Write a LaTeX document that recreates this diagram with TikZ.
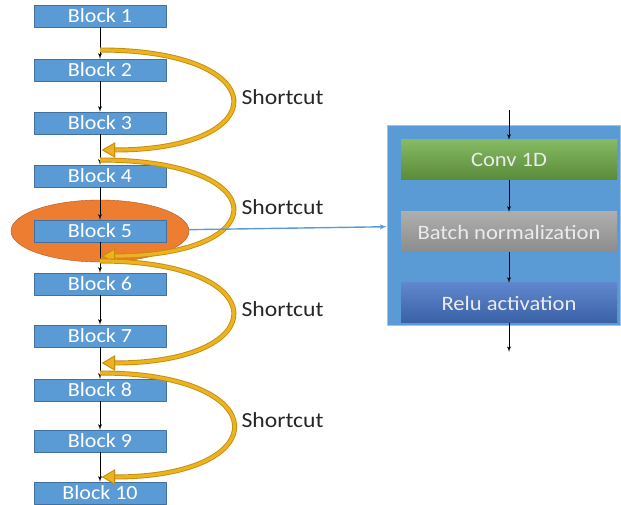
\documentclass[tikz,border=0pt]{standalone}
\usepackage{fontspec}
\setmainfont[FakeStretch=1.1]{Carlito}
\usepackage{tikz}
\usetikzlibrary{arrows,arrows.meta,shapes.geometric}
\definecolor{blockblue}{HTML}{5B9BD5}
\definecolor{blockedge}{HTML}{41719C}
\definecolor{selorange}{HTML}{ED7D31}
\definecolor{seledge}{HTML}{AE5A21}
\definecolor{scgold}{HTML}{EDB21F}
\definecolor{scdark}{HTML}{C48E0C}
\definecolor{convgreen}{HTML}{70AD47}
\definecolor{bngray}{HTML}{A5A5A5}
\definecolor{relublue}{HTML}{4472C4}
\definecolor{labelgray}{HTML}{262626}

\begin{document}
\begin{tikzpicture}[>=latex',line join=bevel,
  block/.style={draw=blockedge,fill=blockblue,text=white,minimum width=132bp,minimum height=22bp,inner sep=0pt,font=\fontsize{20bp}{22bp}\selectfont},
  layer/.style={minimum width=216bp,minimum height=40bp,inner sep=0pt,text=white!92!black,font=\fontsize{20.5bp}{24bp}\selectfont},
  flow/.style={->,black,line width=0.9bp},
  shortcut/.style={preaction={draw=scdark,line width=5bp},draw=scgold,line width=3.2bp,-{Triangle[length=13bp,width=15bp,fill=scgold,color=scdark,line width=0.8bp]}},
  sclabel/.style={anchor=west,text=labelgray,font=\fontsize{21.5bp}{24bp}\selectfont}]
\useasboundingbox (0bp,0bp) rectangle (621bp,505bp);
%%
\node (sel) at (100bp,274bp) [draw=seledge,fill=selorange,ellipse,minimum width=178bp,minimum height=62bp] {};
\node (b1) at (100bp,489bp) [block] {Block 1};
  \node (b2) at (100bp,435bp) [block] {Block 2};
  \node (b3) at (100bp,382bp) [block] {Block 3};
  \node (b4) at (100bp,329bp) [block] {Block 4};
  \node (b5) at (100bp,274bp) [block] {Block 5};
  \node (b6) at (100bp,221bp) [block] {Block 6};
  \node (b7) at (100bp,169bp) [block] {Block 7};
  \node (b8) at (100bp,115bp) [block] {Block 8};
  \node (b9) at (100bp,64bp) [block] {Block 9};
  \node (b10) at (100bp,12bp) [block] {Block 10};
  \draw [flow] (b1) -- (b2);
  \draw [flow] (b2) -- (b3);
  \draw [flow] (b3) -- (b4);
  \draw [flow] (b4) -- (b5);
  \draw [flow] (b5) -- (b6);
  \draw [flow] (b6) -- (b7);
  \draw [flow] (b7) -- (b8);
  \draw [flow] (b8) -- (b9);
  \draw [flow] (b9) -- (b10);
%
\coordinate (s1) at (100bp,455bp);
  \coordinate (e1) at (102bp,355bp);
  \coordinate (s2) at (100bp,345bp);
  \coordinate (e2) at (102bp,249bp);
  \coordinate (s3) at (100bp,244bp);
  \coordinate (e3) at (102bp,142bp);
  \coordinate (s4) at (100bp,132bp);
  \coordinate (e4) at (102bp,28bp);
  \draw [shortcut] (s1) ..controls (276bp,455bp) and (276bp,355bp)  .. (e1);
  \draw [shortcut] (s2) ..controls (276bp,345bp) and (276bp,249bp)  .. (e2);
  \draw [shortcut] (s3) ..controls (276bp,244bp) and (276bp,142bp)  .. (e3);
  \draw [shortcut] (s4) ..controls (277bp,132bp) and (277bp,28bp)  .. (e4);
  \node (l1) at (238bp,408bp) [sclabel] {Shortcut};
  \node (l2) at (238bp,298bp) [sclabel] {Shortcut};
  \node (l3) at (238bp,196bp) [sclabel] {Shortcut};
  \node (l4) at (238bp,85bp) [sclabel] {Shortcut};
%
\node (panel) at (503.5bp,280bp) [draw=blockblue!60!white,fill=blockblue,minimum width=233bp,minimum height=200bp] {};
  \node (conv) at (509bp,345bp) [layer,top color=convgreen!85!white,bottom color=convgreen!80!black] {Conv 1D};
  \node (bn) at (509bp,273bp) [layer,top color=bngray!90!white,bottom color=bngray!85!black] {Batch normalization};
  \node (relu) at (509bp,202bp) [layer,top color=relublue!85!white,bottom color=relublue!85!black] {Relu activation};
  \coordinate (in) at (509bp,395bp);
  \coordinate (out) at (509bp,153bp);
  \draw [flow] (in) -- (conv);
  \draw [flow] (conv) -- (bn);
  \draw [flow] (bn) -- (relu);
  \draw [flow] (relu) -- (out);
  \draw [->,blockblue,line width=1.4bp] (sel) -- (panel);
%
\end{tikzpicture}
\end{document}
